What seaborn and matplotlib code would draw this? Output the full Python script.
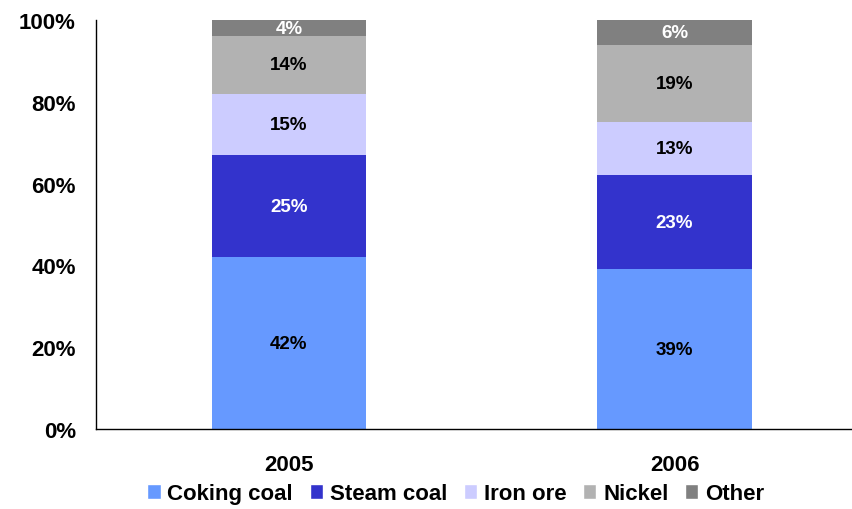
import numpy as np
import pandas as pd
import matplotlib
matplotlib.use("Agg")
import matplotlib.pyplot as plt
import seaborn as sns
from matplotlib.patches import Patch

# Data
years = ["2005", "2006"]
series = ["Coking coal", "Steam coal", "Iron ore", "Nickel", "Other"]
coking_coal = [42, 39]
steam_coal = [25, 23]
iron_ore = [15, 13]
nickel = [14, 19]
other = [4, 6]

colors = ["#6699FF", "#3333CC", "#CCCCFF", "#B2B2B2", "#808080"]
label_colors = ["black", "white", "black", "black", "white"]

df = pd.DataFrame({"year": years, "Coking coal": coking_coal, "Steam coal": steam_coal,
                   "Iron ore": iron_ore, "Nickel": nickel, "Other": other})

sns.set_style("white")
plt.rcParams["font.family"] = ["Liberation Sans", "DejaVu Sans"]
plt.rcParams["font.weight"] = "bold"
plt.rcParams["text.color"] = "black"
plt.rcParams["xtick.color"] = "black"
plt.rcParams["ytick.color"] = "black"

fig = plt.figure(figsize=(8.52, 5.10), dpi=100)
ax = fig.add_axes([96 / 852, 1 - 430 / 510, (852 - 96) / 852, 409 / 510])

bottom = np.zeros(len(years))
for name, col, lc in zip(series, colors, label_colors):
    vals = df[name].to_numpy()
    sns.barplot(x=df["year"], y=vals, bottom=bottom, color=col, width=0.4,
                saturation=1, ax=ax, linewidth=0)
    for i, v in enumerate(vals):
        ax.text(i, bottom[i] + v / 2, f"{v}%", ha="center", va="center",
                color=lc, fontsize=13.5, fontweight="bold")
    bottom += vals

ax.set_ylim(0, 100)
ax.set_xlim(-0.5, 1.46)
ax.set_yticks(range(0, 101, 20))
ax.set_yticklabels([f"{t}%" for t in range(0, 101, 20)], fontsize=16, fontweight="bold")
ax.tick_params(axis="x", labelsize=16, pad=18, length=0)
ax.tick_params(axis="y", pad=14.5, length=0)
for lbl in ax.get_xticklabels():
    lbl.set_fontweight("bold")
ax.set_xlabel("")
ax.set_ylabel("")
for s in ["top", "right"]:
    ax.spines[s].set_visible(False)
for s in ["left", "bottom"]:
    ax.spines[s].set_color("black")
    ax.spines[s].set_linewidth(1)

handles = [Patch(facecolor=c, label=n) for c, n in zip(colors, series)]
fig.legend(handles=handles, loc="lower center", bbox_to_anchor=(0.535, -0.03), ncol=5,
           frameon=False, handlelength=0.6, handleheight=0.6,
           handletextpad=0.3, columnspacing=0.75, prop={"weight": "bold", "size": 16})

fig.savefig("out.png", dpi=100)
